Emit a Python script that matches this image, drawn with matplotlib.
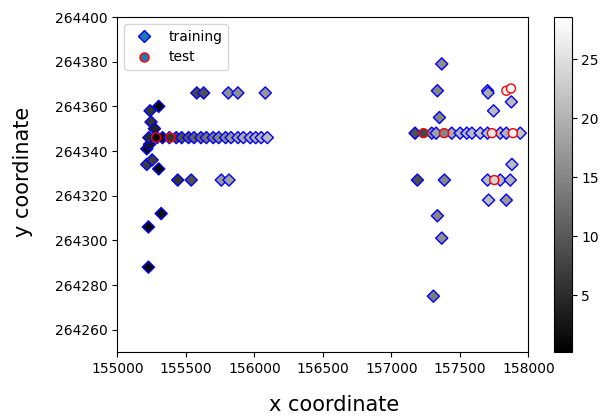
import numpy as np
import matplotlib
matplotlib.use('Agg')
import matplotlib.pyplot as plt
from matplotlib.colors import Normalize
from matplotlib.lines import Line2D

# training points: x, y, colour value
train_x = [155580, 155630, 155810, 155880, 156080,
           155239, 155302, 155246, 155271, 155215, 155235, 155215, 155254, 155302,
           155230, 155290, 155330, 155380, 155430, 155470, 155520, 155560, 155610,
           155650, 155700, 155740, 155790, 155830, 155880, 155920, 155970, 156010,
           156050, 156095,
           155441, 155539, 155759, 155815,
           155320, 155227, 155227,
           157368, 157336, 157351, 157702, 157706, 157746, 157876,
           157173, 157295, 157327, 157441, 157502, 157551, 157588, 157649, 157702,
           157795, 157839, 157941,
           157880, 157190, 157387, 157702, 157795, 157868, 157710, 157839,
           157336, 157368, 157307]
train_y = [264366, 264366, 264366, 264366, 264366,
           264358, 264360, 264353, 264350, 264341, 264343, 264334, 264336, 264332,
           264346, 264346, 264346, 264346, 264346, 264346, 264346, 264346, 264346,
           264346, 264346, 264346, 264346, 264346, 264346, 264346, 264346, 264346,
           264346, 264346,
           264327, 264327, 264327, 264327,
           264312, 264306, 264288,
           264379, 264367, 264355, 264367, 264366, 264358, 264362,
           264348, 264348, 264348, 264348, 264348, 264348, 264348, 264348, 264348,
           264348, 264348, 264348,
           264334, 264327, 264327, 264327, 264327, 264327, 264318, 264318,
           264311, 264301, 264275]
train_c = [8, 9, 16, 16, 17,
           6, 1, 6, 4, 2, 3, 7, 7, 1,
           5, 1, 2, 6, 8, 9, 10, 11, 12,
           13, 14, 15, 16, 17, 18, 19, 19, 20,
           20, 21,
           6, 9, 17, 18,
           2, 1, 1,
           16, 15, 15, 20, 19, 21, 21,
           9, 17, 18, 19, 20, 21, 21, 22, 21,
           21, 20, 22,
           21, 9, 15, 21, 21, 20, 21, 17,
           15, 16, 14]

# test points
test_x = [155283, 155386, 157234, 157385, 157734, 157887, 157839, 157873, 157751]
test_y = [264346, 264346, 264348, 264348, 264348, 264348, 264367, 264368, 264327]
test_c = [1, 6, 8, 15, 26, 27, 28, 28.5, 24]

xticks = np.arange(155000, 158001, 500)
yticks = np.arange(264260, 264401, 20)

fig = plt.figure(figsize=(6.11, 4.16), dpi=100)
ax = fig.add_axes([0.192, 0.1538, 0.6727, 0.8053])
cax = fig.add_axes([0.9067, 0.1538, 0.029, 0.8053])

norm = Normalize(vmin=0.2, vmax=28.6)
sc = ax.scatter(train_x, train_y, c=train_c, cmap='gray', norm=norm, marker='D',
                s=38, edgecolors='blue', linewidths=1.0)
ax.scatter(test_x, test_y, c=test_c, cmap='gray', norm=norm, marker='o',
           s=42, edgecolors='red', linewidths=1.0)

ax.set_xlim(155000, 158000)
ax.set_ylim(264250, 264400)
ax.set_xticks(xticks)
ax.set_yticks(yticks)
ax.ticklabel_format(useOffset=False, style='plain')

ax.set_xlabel('x coordinate', fontsize=15)
ax.set_ylabel('y coordinate', fontsize=15)
ax.xaxis.set_label_coords(0.527, -0.128)
ax.yaxis.set_label_coords(-0.204, 0.537)

handles = [Line2D([], [], ls='', marker='D', ms=6, mfc='#1f77b4', mec='blue', mew=1.0),
           Line2D([], [], ls='', marker='o', ms=6.5, mfc='#1f77b4', mec='red', mew=1.0)]
ax.legend(handles, ['training', 'test'], loc='upper left')

cb = fig.colorbar(sc, cax=cax)
cb.set_ticks([5, 10, 15, 20, 25])

fig.savefig('out.png', dpi=100)
